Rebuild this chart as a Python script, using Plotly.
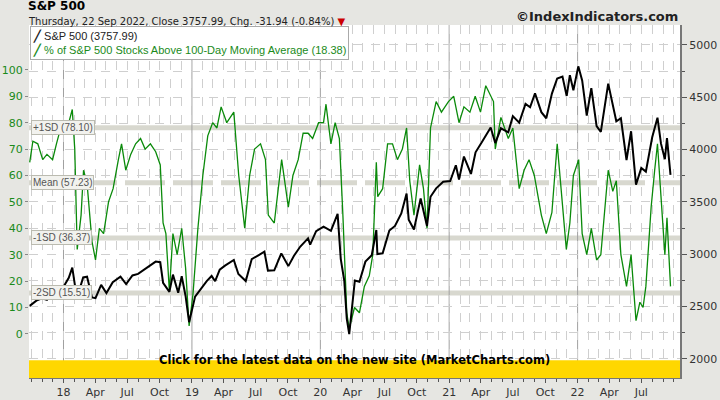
import pandas as pd
import plotly.graph_objects as go

# S&P 500 close (right axis), approximate semi-monthly readings
spx_dates = ["2017-09-27", "2017-10-16", "2017-11-01", "2017-11-15", "2017-12-01", "2017-12-18",
             "2018-01-02", "2018-01-16", "2018-01-26", "2018-02-08", "2018-02-26", "2018-03-09",
             "2018-03-23", "2018-04-02", "2018-04-18", "2018-05-03", "2018-05-21", "2018-06-12",
             "2018-06-28", "2018-07-16", "2018-08-01", "2018-08-20", "2018-09-04", "2018-09-20",
             "2018-10-03", "2018-10-11", "2018-10-29", "2018-11-08", "2018-11-23", "2018-12-03",
             "2018-12-14", "2018-12-24", "2019-01-10", "2019-01-25", "2019-02-12", "2019-02-26",
             "2019-03-08", "2019-03-21", "2019-04-05", "2019-04-30", "2019-05-13", "2019-06-03",
             "2019-06-20", "2019-07-10", "2019-07-26", "2019-08-05", "2019-08-23", "2019-09-12",
             "2019-10-02", "2019-10-18", "2019-11-05", "2019-11-27", "2019-12-03", "2019-12-20",
             "2020-01-10", "2020-01-31", "2020-02-19", "2020-02-28", "2020-03-09", "2020-03-16",
             "2020-03-23", "2020-04-08", "2020-04-21", "2020-05-08", "2020-05-26", "2020-06-08",
             "2020-06-11", "2020-06-26", "2020-07-15", "2020-07-31", "2020-08-18", "2020-09-02",
             "2020-09-08", "2020-09-23", "2020-10-12", "2020-10-30", "2020-11-09", "2020-11-25",
             "2020-12-15", "2021-01-04", "2021-01-20", "2021-01-29", "2021-02-12", "2021-03-04",
             "2021-03-17", "2021-04-05", "2021-04-29", "2021-05-12", "2021-05-28", "2021-06-18",
             "2021-07-01", "2021-07-19", "2021-08-06", "2021-08-19", "2021-09-02", "2021-09-20",
             "2021-10-04", "2021-10-20", "2021-11-04", "2021-11-19", "2021-12-01", "2021-12-10",
             "2021-12-20", "2022-01-03", "2022-01-14", "2022-01-27", "2022-02-09", "2022-02-24",
             "2022-03-08", "2022-03-29", "2022-04-11", "2022-04-21", "2022-05-04", "2022-05-20",
             "2022-06-02", "2022-06-16", "2022-07-01", "2022-07-14", "2022-08-01", "2022-08-16",
             "2022-08-26", "2022-09-06", "2022-09-12", "2022-09-22"]
spx_vals = [2507, 2557, 2580, 2565, 2642, 2690,
            2695, 2776, 2872, 2581, 2779, 2786,
            2588, 2582, 2708, 2630, 2733, 2786,
            2716, 2798, 2813, 2857, 2896, 2930,
            2925, 2728, 2641, 2806, 2633, 2790,
            2600, 2351, 2596, 2664, 2744, 2793,
            2743, 2854, 2892, 2946, 2812, 2744,
            2954, 2993, 3025, 2844, 2847, 3009,
            2887, 2986, 3074, 3153, 3093, 3221,
            3265, 3225, 3386, 2954, 2746, 2386,
            2237, 2750, 2737, 2930, 2991, 3232,
            3002, 3009, 3227, 3271, 3390, 3580,
            3331, 3237, 3534, 3270, 3550, 3630,
            3694, 3700, 3851, 3714, 3934, 3768,
            3975, 4078, 4211, 4063, 4204, 4166,
            4320, 4258, 4437, 4405, 4537, 4358,
            4300, 4536, 4680, 4698, 4513, 4712,
            4568, 4796, 4662, 4326, 4587, 4225,
            4170, 4631, 4413, 4271, 4300, 3901,
            4176, 3666, 3825, 3790, 4118, 4305,
            4057, 3908, 4110, 3758]

# % of S&P 500 stocks above 100-day moving average (left axis)
pct_dates = ["2017-09-27", "2017-10-06", "2017-10-20", "2017-11-03", "2017-11-15", "2017-12-01",
             "2017-12-12", "2017-12-22", "2018-01-05", "2018-01-16", "2018-01-26", "2018-02-02",
             "2018-02-09", "2018-02-20", "2018-02-27", "2018-03-09", "2018-03-23", "2018-04-02",
             "2018-04-13", "2018-04-25", "2018-05-09", "2018-05-22", "2018-06-06", "2018-06-15",
             "2018-06-27", "2018-07-11", "2018-07-25", "2018-08-08", "2018-08-21", "2018-09-05",
             "2018-09-20", "2018-10-03", "2018-10-11", "2018-10-19", "2018-10-29", "2018-11-08",
             "2018-11-20", "2018-12-03", "2018-12-14", "2018-12-24", "2019-01-04", "2019-01-18",
             "2019-02-01", "2019-02-15", "2019-03-01", "2019-03-13", "2019-03-25", "2019-04-10",
             "2019-04-30", "2019-05-14", "2019-05-31", "2019-06-14", "2019-06-28", "2019-07-15",
             "2019-07-29", "2019-08-06", "2019-08-23", "2019-09-13", "2019-10-02", "2019-10-15",
             "2019-10-30", "2019-11-13", "2019-11-27", "2019-12-10", "2019-12-27", "2020-01-10",
             "2020-01-17", "2020-01-31", "2020-02-12", "2020-02-24", "2020-03-05", "2020-03-16",
             "2020-03-23", "2020-04-07", "2020-04-21", "2020-05-05", "2020-05-19", "2020-05-29",
             "2020-06-08", "2020-06-12", "2020-06-26", "2020-07-10", "2020-07-24", "2020-08-07",
             "2020-08-21", "2020-09-02", "2020-09-11", "2020-09-23", "2020-10-09", "2020-10-20",
             "2020-10-30", "2020-11-09", "2020-11-25", "2020-12-10", "2020-12-30", "2021-01-14",
             "2021-01-29", "2021-02-12", "2021-03-01", "2021-03-16", "2021-03-31", "2021-04-15",
             "2021-05-07", "2021-05-12", "2021-05-28", "2021-06-18", "2021-07-01", "2021-07-19",
             "2021-08-02", "2021-08-16", "2021-08-31", "2021-09-20", "2021-10-04", "2021-10-20",
             "2021-11-04", "2021-11-19", "2021-11-30", "2021-12-10", "2021-12-20", "2022-01-04",
             "2022-01-14", "2022-01-27", "2022-02-09", "2022-02-24", "2022-03-08", "2022-03-29",
             "2022-04-11", "2022-04-21", "2022-05-04", "2022-05-12", "2022-05-20", "2022-06-02",
             "2022-06-16", "2022-06-27", "2022-07-06", "2022-07-14", "2022-07-29", "2022-08-08",
             "2022-08-16", "2022-08-26", "2022-09-06", "2022-09-12", "2022-09-22"]
pct_vals = [65, 73, 72, 66, 68, 66,
            72, 77, 76, 80, 85, 70,
            32, 45, 62, 57, 35, 28,
            40, 38, 50, 55, 66, 72,
            62, 68, 72, 74, 70, 72,
            69, 64, 42, 38, 16, 38,
            30, 40, 25, 3, 15, 40,
            60, 75, 80, 78, 86, 80,
            84, 60, 40, 60, 70, 72,
            66, 45, 42, 66, 48, 60,
            66, 76, 76, 74, 80, 80,
            87, 72, 80, 74, 45, 8,
            2, 10, 8, 18, 22, 30,
            65, 52, 55, 72, 72, 66,
            70, 78, 58, 45, 64, 55,
            40, 78, 88, 84, 88, 90,
            80, 86, 84, 90, 84, 94,
            88, 70, 82, 74, 78, 55,
            62, 66, 60, 45, 38, 46,
            72, 48, 32, 42, 60, 66,
            38, 30, 40, 28, 30, 62,
            54, 58, 30, 24, 18, 30,
            5, 12, 10, 18, 48, 62,
            72, 52, 30, 44, 18]

sd_vals = [78.10, 57.23, 36.37, 15.51]
sd_names = ["+1SD", "Mean", "-1SD", "-2SD"]

month_grid = pd.date_range("2017-10-01", "2022-12-01", freq="MS")
tick_dates = pd.date_range("2018-01-01", "2022-07-01", freq="QS")
tick_text = [d.strftime("%y") if d.month == 1 else d.strftime("%b") for d in tick_dates]

fig = go.Figure()
fig.add_trace(go.Scatter(x=pd.to_datetime(pct_dates), y=pct_vals, mode="lines",
                         line=dict(color="#0a8a0a", width=1.3), showlegend=False))
fig.add_trace(go.Scatter(x=pd.to_datetime(spx_dates), y=spx_vals, mode="lines", yaxis="y2",
                         line=dict(color="black", width=2), showlegend=False))

# standard deviation bands
for v, nm in zip(sd_vals, sd_names):
    fig.add_shape(type="line", xref="paper", x0=0, x1=1, yref="y", y0=v, y1=v,
                  line=dict(color="#d8d8cf", width=5,
                            dash="40px,8px" if nm == "Mean" else "solid"),
                  layer="below")
    fig.add_annotation(xref="paper", x=0.003, yref="y", y=v, xanchor="left",
                       text=f"{nm} ({v:.2f})", showarrow=False, bgcolor="#f2f2ee",
                       bordercolor="#bbbbb0", borderwidth=1, borderpad=1,
                       font=dict(size=10, color="#555555", family="Liberation Sans"))

# year lines
for d in month_grid:
    if d.month == 1:
        fig.add_shape(type="line", x0=d, x1=d, xref="x", yref="paper", y0=0, y1=1,
                      line=dict(color="#a0a0a0", width=1), layer="below")

# legend box
fig.add_annotation(xref="paper", yref="paper", x=0.002, y=0.997, xanchor="left", yanchor="top",
                   showarrow=False, align="left", bgcolor="white", bordercolor="#aaaaaa",
                   borderwidth=1, borderpad=2,
                   text="<b>╱</b> S&amp;P 500 (3757.99)<br>"
                        "<span style='color:#1a8a1a'><b>╱</b> % of S&amp;P 500 Stocks Above "
                        "100-Day Moving Average (18.38)</span>",
                   font=dict(size=11, family="Liberation Sans", color="#222222"))

# banner
fig.add_shape(type="rect", xref="paper", yref="paper", x0=0, x1=1, y0=0, y1=0.05,
              fillcolor="#ffd700", line_width=0)
fig.add_annotation(xref="paper", yref="paper", x=0.5, y=0.025, showarrow=False,
                   text="<b>Click for the latest data on the new site (MarketCharts.com)</b>",
                   font=dict(size=11.5, color="black", family="DejaVu Sans"))

fig.add_annotation(xref="paper", yref="paper", x=-0.004, y=1.078, xanchor="left", yanchor="top",
                   showarrow=False, text="<b>S&amp;P 500</b>",
                   font=dict(size=12, family="DejaVu Sans", color="black"))
fig.add_annotation(xref="paper", yref="paper", x=-0.004, y=1.032, xanchor="left", yanchor="top",
                   showarrow=False,
                   text="Thursday, 22 Sep 2022, Close 3757.99, Chg. -31.94 (-0.84%) <span style='color:#cc0000'>▼</span>",
                   font=dict(size=10, family="DejaVu Sans", color="#222222"))
fig.add_annotation(xref="paper", yref="paper", x=1.0, y=1.05, xanchor="right", yanchor="top",
                   showarrow=False, text="<b>©IndexIndicators.com</b>",
                   font=dict(size=13, family="DejaVu Sans", color="#222222"))

fig.update_layout(
    width=720, height=400,
    margin=dict(l=29, r=40, t=25, b=22),
    paper_bgcolor="#e6e6e2", plot_bgcolor="white",
    showlegend=False,
    xaxis=dict(range=["2017-09-25", "2022-10-19"], tickvals=tick_dates, ticktext=tick_text,
               showgrid=False, ticks="outside", ticklen=4, tickcolor="#555555",
               minor=dict(tickvals=month_grid, showgrid=True, gridcolor="#cfcfcf",
                          griddash="dash", ticks="outside", ticklen=3),
               tickfont=dict(size=11, family="DejaVu Sans", color="#333333"),
               showline=True, linecolor="#777777", zeroline=False, automargin=False),
    yaxis=dict(range=[-16.7, 117], tickvals=list(range(0, 101, 10)), showgrid=False,
               zeroline=False, ticks="outside", ticklen=3, tickcolor="#888888",
               tickfont=dict(size=11, family="DejaVu Sans", color="#1a8a1a"),
               showline=False, automargin=False),
    yaxis2=dict(range=[1818, 5191], overlaying="y", side="right",
                tickvals=list(range(2000, 5001, 500)),
                showgrid=True, gridcolor="#cfcfcf", griddash="dash", zeroline=False,
                ticks="outside", ticklen=5, tickcolor="#555555",
                minor=dict(dtick=250, showgrid=True, gridcolor="#cfcfcf", griddash="dash",
                           ticks="outside", ticklen=3),
                tickfont=dict(size=11, family="DejaVu Sans", color="#333333"),
                showline=True, linecolor="#777777", linewidth=2, automargin=False),
)

fig.write_html("out.html", config={"displayModeBar": False},
               post_script="document.body.style.margin='0';")
